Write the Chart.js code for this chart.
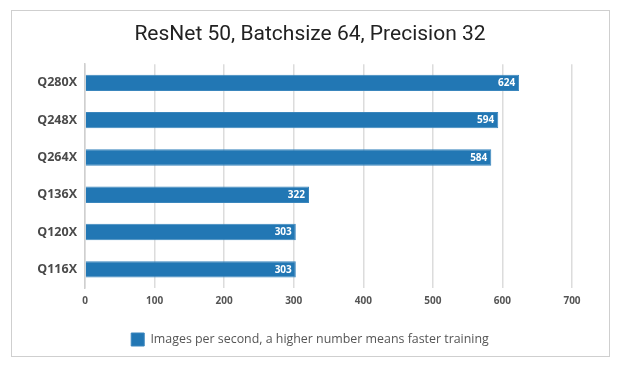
<!DOCTYPE html>
<html>
<head>
<meta charset="utf-8">
<script src="https://cdn.jsdelivr.net/npm/chart.js@4/dist/chart.umd.min.js"></script>
<style>
  html, body { margin: 0; padding: 0; background: #fff; }
  #wrap { position: relative; width: 620px; height: 369px; }
  #frame { position: absolute; left: 11px; top: 10px; width: 597px; height: 345px; border: 1px solid #cfcfcf; pointer-events: none; }
  canvas { position: absolute; left: 0; top: 0; }
</style>
</head>
<body>
<div id="wrap">
  <div id="frame"></div>
  <canvas id="chart" width="620" height="369"></canvas>
</div>
<script>
// chart data
const gpus = ['Q280X', 'Q248X', 'Q264X', 'Q136X', 'Q120X', 'Q116X'];
const imagesPerSecond = [624, 594, 584, 322, 303, 303];
const seriesLabel = 'Images per second, a higher number means faster training';
const titleText = 'ResNet 50, Batchsize 64, Precision 32';

// white value labels inside bar ends
const barLabels = {
    id: 'barLabels',
    afterDatasetsDraw(chart) {
        const ctx = chart.ctx;
        const meta = chart.getDatasetMeta(0);
        ctx.save();
        ctx.font = 'bold 10px "Open Sans"';
        ctx.fillStyle = '#ffffff';
        ctx.textAlign = 'right';
        ctx.textBaseline = 'middle';
        meta.data.forEach((bar, i) => {
            ctx.fillText(imagesPerSecond[i], bar.x - 4, bar.y + 0.5);
        });
        ctx.restore();
    }
};

new Chart(document.getElementById('chart').getContext('2d'), {
    type: 'bar',
    data: {
        labels: gpus,
        datasets: [{
            label: seriesLabel,
            data: imagesPerSecond,
            backgroundColor: '#2277b4',
            borderColor: '#3a86bd',
            borderWidth: 1,
            barPercentage: 0.44,
            categoryPercentage: 1
        }]
    },
    options: {
        indexAxis: 'y',
        responsive: false,
        animation: false,
        layout: { padding: { left: 0, right: 0, top: 0, bottom: 13 } },
        plugins: {
            title: {
                display: true,
                text: titleText,
                color: '#222',
                font: { family: 'Roboto', size: 21, weight: 'normal' },
                padding: { top: 22, bottom: 17 }
            },
            legend: {
                position: 'bottom',
                labels: {
                    color: '#555',
                    font: { family: '"Open Sans"', size: 12.4 },
                    boxWidth: 13,
                    boxHeight: 13,
                    padding: 10
                }
            },
            tooltip: { enabled: false }
        },
        scales: {
            x: {
                min: 0,
                max: 700,
                ticks: {
                    stepSize: 100,
                    color: '#555',
                    font: { family: '"Open Sans"', size: 10, weight: 'bold' },
                    padding: 7
                },
                grid: { color: '#dcdcdc', lineWidth: 1.5, drawTicks: false },
                border: { display: false },
                afterFit: s => { s.height = 35; }
            },
            y: {
                ticks: {
                    color: '#4a4a4a',
                    font: { family: '"Open Sans"', size: 12.5, weight: 'bold' },
                    padding: 8
                },
                grid: { display: false, drawTicks: false },
                border: { display: true, color: '#cfcfcf', width: 1.5 },
                afterFit: s => { s.width = 85; }
            },
            yRight: {
                type: 'category',
                position: 'right',
                ticks: { display: false },
                grid: { display: false, drawTicks: false },
                border: { display: false },
                afterFit: s => { s.width = 48; }
            }
        }
    },
    plugins: [barLabels]
});
</script>
</body>
</html>
